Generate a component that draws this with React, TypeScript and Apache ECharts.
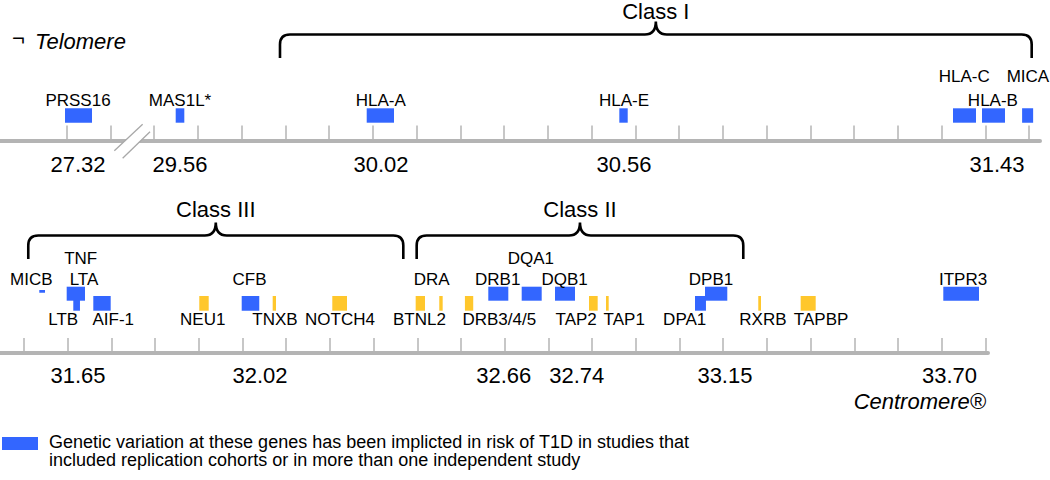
import React, { useEffect, useRef } from "react";
import * as echarts from "echarts";

// ---------- DATA (positions in axis tick units along the chromosome) ----------
const TICKS = Array.from({ length: 23 }, (_, i) => i);

const TOP_COORD_LABELS = ["27.32", "29.56", "30.02", "30.56", "31.43"];
const TOP_COORD_POS = [0.258, 2.59, 7.184, 12.738, 21.264];

const BOTTOM_COORD_LABELS = ["31.65", "32.02", "32.66", "32.74", "33.15", "33.70"];
const BOTTOM_COORD_POS = [1.236, 5.4, 10.98, 12.65, 16.04, 21.18];

// name, start, end, lane, label position, label tier, implicated (blue) or not (yellow)
const TOP_GENES = [
  { name: "PRSS16", start: -0.039, end: 0.578, lane: "main", label: 0.258, tier: "above", implicated: true },
  { name: "MAS1L*", start: 2.491, end: 2.688, lane: "main", label: 2.59, tier: "above", implicated: true },
  { name: "HLA-A", start: 6.857, end: 7.481, lane: "main", label: 7.177, tier: "above", implicated: true },
  { name: "HLA-E", start: 12.631, end: 12.823, lane: "main", label: 12.738, tier: "above", implicated: true },
  { name: "HLA-C", start: 20.258, end: 20.784, lane: "main", label: 20.514, tier: "above2", implicated: true },
  { name: "HLA-B", start: 20.921, end: 21.447, lane: "main", label: 21.17, tier: "above", implicated: true },
  { name: "MICA", start: 21.838, end: 22.09, lane: "main", label: 21.97, tier: "above2", implicated: true },
];

const BOTTOM_GENES = [
  { name: "LTB", start: 1.128, end: 1.281, lane: "lower", label: 0.897, tier: "below", implicated: true },
  { name: "AIF-1", start: 1.586, end: 1.984, lane: "lower", label: 2.043, tier: "below", implicated: true },
  { name: "NEU1", start: 4.011, end: 4.227, lane: "lower", label: 4.09, tier: "below", implicated: false },
  { name: "CFB", start: 4.982, end: 5.384, lane: "lower", label: 5.16, tier: "above", implicated: true },
  { name: "TNXB", start: 5.691, end: 5.767, lane: "lower", label: 5.744, tier: "below", implicated: false },
  { name: "NOTCH4", start: 7.055, end: 7.391, lane: "lower", label: 7.231, tier: "below", implicated: false },
  { name: "DRA", start: 8.963, end: 9.176, lane: "lower", label: 9.33, tier: "above", implicated: false },
  { name: "BTNL2", start: 9.503, end: 9.581, lane: "lower", label: 9.05, tier: "below", implicated: false },
  { name: "DRB3/4/5", start: 10.09, end: 10.28, lane: "lower", label: 10.877, tier: "below", implicated: false },
  { name: "TAP2", start: 12.929, end: 13.128, lane: "lower", label: 12.636, tier: "below", implicated: false },
  { name: "TAP1", start: 13.318, end: 13.38, lane: "lower", label: 13.735, tier: "below", implicated: false },
  { name: "DPA1", start: 15.355, end: 15.606, lane: "lower", label: 15.119, tier: "below", implicated: true },
  { name: "RXRB", start: 16.803, end: 16.865, lane: "lower", label: 16.91, tier: "below", implicated: false },
  { name: "TAPBP", start: 17.773, end: 18.117, lane: "lower", label: 18.24, tier: "below", implicated: false },
  { name: "MICB", start: 0.35, end: 0.481, lane: "tiny", label: 0.167, tier: "above", implicated: true },
  { name: "LTA", start: 0.977, end: 1.19, lane: "upper", label: 1.373, tier: "above", implicated: true },
  { name: "TNF", start: 1.19, end: 1.396, lane: "upper", label: 1.297, tier: "above2", implicated: true },
  { name: "DRB1", start: 10.625, end: 11.083, lane: "upper", label: 10.84, tier: "above", implicated: true },
  { name: "DQA1", start: 11.389, end: 11.847, lane: "upper", label: 11.597, tier: "above2", implicated: true },
  { name: "DQB1", start: 12.151, end: 12.609, lane: "upper", label: 12.37, tier: "above", implicated: true },
  { name: "DPB1", start: 15.584, end: 16.094, lane: "upper", label: 15.721, tier: "above", implicated: true },
  { name: "ITPR3", start: 21.037, end: 21.854, lane: "upper", label: 21.49, tier: "above", implicated: true },
];

const TOP_CLASSES = [{ name: "Class I", start: 4.875, end: 22.057 }];
const BOTTOM_CLASSES = [
  { name: "Class III", start: 0.098, end: 8.68 },
  { name: "Class II", start: 8.986, end: 16.46 },
];

const TOP_BREAKS = [1.5];

const LEGEND_LINES = [
  "Genetic variation at these genes has been implicted in risk of T1D in studies that",
  "included replication cohorts or in more than one independent study",
];

// ---------- STYLE ----------
const FONT = "'Liberation Sans', Arial, Helvetica, sans-serif";
const BLUE = "#3366ff";
const YELLOW = "#ffc72c";
const AXIS_GRAY = "#b4b4b4";

const TOP_LANES: any = { main: [17.8, 32.2] };
const TOP_TIERS: any = { above: 39.7, above2: 63.8 };
const BOTTOM_LANES: any = { upper: [52.3, 66.3], lower: [42.3, 57], tiny: [60.3, 63] };
const BOTTOM_TIERS: any = { above: 73.5, above2: 94.2, below: 33.8 };

function txt(x: number, y: number, text: string, font: string, align = "center") {
  return {
    type: "text",
    x,
    y,
    style: {
      text,
      fill: "#000",
      font,
      textAlign: align,
      textVerticalAlign: "middle",
      align,
      verticalAlign: "middle",
    },
  };
}

function geneSeries(genes: any[], lanes: any, tiers: any, axisIndex: number) {
  return {
    type: "custom",
    xAxisIndex: axisIndex,
    yAxisIndex: axisIndex,
    silent: true,
    clip: false,
    data: genes.map((g) => [g.start, g.end, g.label]),
    renderItem: (params: any, api: any) => {
      const g = genes[params.dataIndex];
      const [lo, hi] = lanes[g.lane];
      const p0 = api.coord([api.value(0), lo]);
      const p1 = api.coord([api.value(1), hi]);
      const lp = api.coord([api.value(2), tiers[g.tier]]);
      return {
        type: "group",
        children: [
          {
            type: "rect",
            shape: { x: p0[0], y: p1[1], width: p1[0] - p0[0], height: p0[1] - p1[1] },
            style: { fill: g.implicated ? BLUE : YELLOW },
          },
          txt(lp[0], lp[1], g.name, `17px ${FONT}`),
        ],
      };
    },
  };
}

function braceSeries(classes: any[], base: number, axisIndex: number, textOffset: number) {
  return {
    type: "custom",
    xAxisIndex: axisIndex,
    yAxisIndex: axisIndex,
    silent: true,
    clip: false,
    data: classes.map((c) => [c.start, c.end]),
    renderItem: (params: any, api: any) => {
      const c = classes[params.dataIndex];
      const a = api.coord([api.value(0), base]);
      const b = api.coord([api.value(1), base]);
      const x0 = a[0];
      const x1 = b[0];
      const yEnd = a[1];
      const yBar = yEnd - 23.5;
      const yCusp = yEnd - 36.5;
      const xm = (x0 + x1) / 2;
      const r = 10;
      const c2 = 11;
      const d =
        `M${x0},${yEnd} L${x0},${yBar + r} Q${x0},${yBar} ${x0 + r},${yBar} ` +
        `L${xm - c2},${yBar} Q${xm},${yBar} ${xm},${yCusp} Q${xm},${yBar} ${xm + c2},${yBar} ` +
        `L${x1 - r},${yBar} Q${x1},${yBar} ${x1},${yBar + r} L${x1},${yEnd}`;
      return {
        type: "group",
        children: [
          {
            type: "path",
            shape: { pathData: d },
            style: { fill: "none", stroke: "#000", lineWidth: 2.6 },
          },
          txt(xm, yEnd - textOffset, c.name, `22px ${FONT}`),
        ],
      };
    },
  };
}

function breakSeries(breaks: number[], axisIndex: number) {
  return {
    type: "custom",
    xAxisIndex: axisIndex,
    yAxisIndex: axisIndex,
    silent: true,
    clip: false,
    data: breaks.map((b) => [b, 0]),
    renderItem: (params: any, api: any) => {
      const p = api.coord([api.value(0), 0]);
      const [cx, cy] = p;
      const A0 = [cx - 18, cy + 10.2];
      const A1 = [cx + 10.3, cy - 16.2];
      const B0 = [cx - 9.7, cy + 17.8];
      const B1 = [cx + 17.7, cy - 8.8];
      return {
        type: "group",
        children: [
          {
            type: "polygon",
            shape: { points: [A0, A1, B1, B0] },
            style: { fill: "#fff" },
          },
          { type: "line", shape: { x1: A0[0], y1: A0[1], x2: A1[0], y2: A1[1] }, style: { stroke: "#a8a8a8", lineWidth: 1.3 } },
          { type: "line", shape: { x1: B0[0], y1: B0[1], x2: B1[0], y2: B1[1] }, style: { stroke: "#a8a8a8", lineWidth: 1.3 } },
        ],
      };
    },
  };
}

function xAxisCfg(gridIndex: number, min: number, max: number, labelPos: number[], labels: string[], margin: number) {
  return {
    type: "value",
    gridIndex,
    min,
    max,
    splitLine: { show: false },
    axisLine: { show: true, onZero: false, lineStyle: { color: AXIS_GRAY, width: 4 } },
    axisTick: {
      show: true,
      inside: true,
      length: 15,
      customValues: TICKS,
      lineStyle: { color: AXIS_GRAY, width: 1.5 },
    },
    axisLabel: {
      show: true,
      customValues: labelPos,
      margin,
      fontSize: 22,
      fontFamily: FONT,
      color: "#000",
      showMinLabel: true,
      showMaxLabel: true,
      formatter: (v: number) => {
        const i = labelPos.findIndex((p) => Math.abs(p - v) < 1e-6);
        return i >= 0 ? labels[i] : "";
      },
    },
  };
}

export default function App() {
  const ref = useRef<HTMLDivElement>(null);
  useEffect(() => {
    if (!ref.current) return;
    const chart = echarts.init(ref.current, null, { renderer: "svg" });
    chart.setOption({
      animation: false,
      backgroundColor: "#fff",
      grid: [
        { left: 0, top: 0, width: 1040, height: 140.5 },
        { left: 0, top: 160, width: 988, height: 193 },
      ],
      xAxis: [
        xAxisCfg(0, -1.525, 22.247, TOP_COORD_POS, TOP_COORD_LABELS, 13),
        xAxisCfg(1, -0.549, 22.06, BOTTOM_COORD_POS, BOTTOM_COORD_LABELS, 11),
      ],
      yAxis: [
        { type: "value", gridIndex: 0, min: 0, max: 140.5, show: false },
        { type: "value", gridIndex: 1, min: 0, max: 193, show: false },
      ],
      series: [
        breakSeries(TOP_BREAKS, 0),
        geneSeries(TOP_GENES, TOP_LANES, TOP_TIERS, 0),
        braceSeries(TOP_CLASSES, 82.5, 0, 46.5),
        geneSeries(BOTTOM_GENES, BOTTOM_LANES, BOTTOM_TIERS, 1),
        braceSeries(BOTTOM_CLASSES, 94, 1, 49.5),
      ],
      graphic: [
        txt(12, 38.5, "\u00ac", `22px ${FONT}`, "left"),
        txt(35, 41.5, "Telomere", `italic 22px ${FONT}`, "left"),
        txt(986, 401.7, "Centromere\u00ae", `italic 22px ${FONT}`, "right"),
        { type: "rect", shape: { x: 2, y: 437, width: 36, height: 13 }, style: { fill: BLUE } },
        txt(49, 442, LEGEND_LINES[0], `18px ${FONT}`, "left"),
        txt(49, 460, LEGEND_LINES[1], `18px ${FONT}`, "left"),
      ],
    });
    return () => chart.dispose();
  }, []);
  return (
    <div
      ref={ref}
      style={{ position: "fixed", left: 0, top: 0, width: 1050, height: 480, background: "#fff" }}
    />
  );
}
